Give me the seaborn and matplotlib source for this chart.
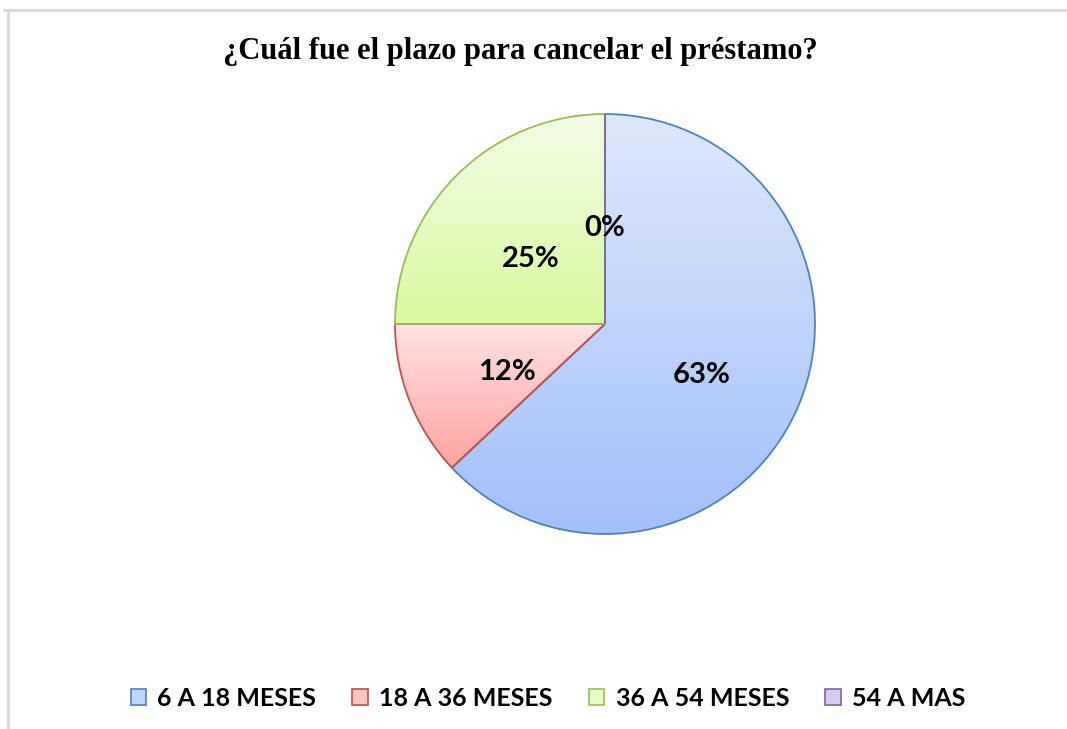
import matplotlib

matplotlib.use("Agg")
import matplotlib.pyplot as plt
import numpy as np
import seaborn as sns
from matplotlib.colors import to_rgb
from matplotlib.lines import Line2D
from matplotlib.patches import Patch

# data
categories = ["6 A 18 MESES", "18 A 36 MESES", "36 A 54 MESES", "54 A MAS"]
shares = [63, 12, 25, 0]
title = "¿Cuál fue el plazo para cancelar el préstamo?"

# Excel-like series colours: gradient top/bottom and edge
fill_top = ["#DEE8FC", "#FFE2E2", "#F3FCE6", "#E8E0F5"]
fill_bottom = ["#A2C0F9", "#FFA3A0", "#D8FAA0", "#C6B8EA"]
edge_colors = ["#4F81BD", "#C0504D", "#9BBB59", "#8064A2"]

sns.set_theme(style="white")
plt.rcParams["font.family"] = ["Lato", "DejaVu Sans"]
plt.rcParams["text.color"] = "black"

W, H = 1067, 729
fig = plt.figure(figsize=(W / 100, H / 100), dpi=100)
fig.patch.set_facecolor("white")

# pie axes: centre at (605, 324) px, radius 210 px
cx, cy, half = 605, 324, 220.5
ax = fig.add_axes([(cx - half) / W, (H - cy - half) / H, 2 * half / W, 2 * half / H])
ax.set_axis_off()

wedges, texts, autotexts = ax.pie(
    shares,
    startangle=90,
    counterclock=False,
    autopct="%1.0f%%",
    pctdistance=0.5,
    wedgeprops=dict(linewidth=1.3, facecolor="none"),
    textprops=dict(fontsize=21, fontweight="bold", color="black"),
)

for i, w in enumerate(wedges):
    w.set_edgecolor(edge_colors[i])
    w.set_zorder(2)
    (x0, y0), (x1, y1) = w.get_path().get_extents().get_points()
    if x1 - x0 < 1e-6 or y1 - y0 < 1e-6:
        continue
    t = np.linspace(0, 1, 256)[:, None, None]
    grad = (1 - t) * np.array(to_rgb(fill_top[i])) + t * np.array(to_rgb(fill_bottom[i]))
    ax.imshow(grad, extent=[x0, x1, y0, y1], origin="upper", aspect="auto",
              clip_path=w, zorder=1, interpolation="bilinear")

for t in autotexts:
    t.set_zorder(3)
    px, py = t.get_position()
    t.set_position((px, py - 0.045))

ax.set_xlim(-1.05, 1.05)
ax.set_ylim(-1.05, 1.05)
ax.set_aspect("equal")

# title
fig.text(520 / W, 1 - 52 / H, title, ha="center", va="center", color="black",
         fontsize=22, fontweight="bold", family="Liberation Serif")

# legend
handles = [
    Patch(facecolor=(np.array(to_rgb(fill_top[i])) + np.array(to_rgb(fill_bottom[i]))) / 2,
          edgecolor=edge_colors[i], linewidth=1.2)
    for i in range(len(categories))
]
leg = fig.legend(
    handles, categories, loc="center", bbox_to_anchor=(548 / W, 1 - 698 / H),
    ncol=4, frameon=False, prop=dict(family="Lato", weight="bold", size=18),
    handlelength=0.62, handleheight=0.62, handletextpad=0.45, columnspacing=1.45,
)
for txt in leg.get_texts():
    txt.set_color("black")

# chart-area frame (top and left edges visible)
frame_kw = dict(color="#D9D9D9", linewidth=2, transform=fig.transFigure)
fig.add_artist(Line2D([4 / W, 1], [1 - 9.5 / H] * 2, **frame_kw))
fig.add_artist(Line2D([8 / W] * 2, [1 - 9.5 / H, 0], **frame_kw))

fig.savefig("out.png", dpi=100)
